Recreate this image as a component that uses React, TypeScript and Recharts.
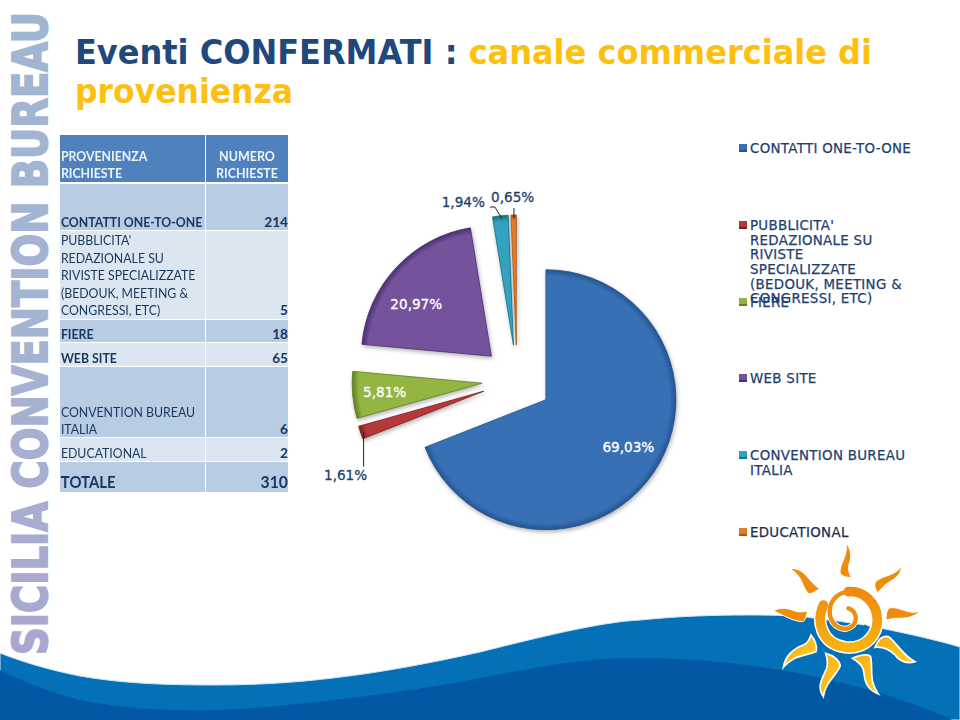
import React from 'react';
import { PieChart, Pie, Legend, Sector } from 'recharts';

const categories = [
  'CONTATTI ONE-TO-ONE',
  "PUBBLICITA' REDAZIONALE SU RIVISTE SPECIALIZZATE (BEDOUK, MEETING & CONGRESSI, ETC)",
  'FIERE',
  'WEB SITE',
  'CONVENTION BUREAU ITALIA',
  'EDUCATIONAL',
];
const requests = [214, 5, 18, 65, 6, 2];
const sliceColors = ['#3870b6', '#b5393a', '#93b643', '#74529c', '#31a3c0', '#e47d25'];
const sliceEdges = ['#24548f', '#7a1f20', '#5f7d22', '#4a2f70', '#1a6d85', '#a65412'];

const headerLeft = ['PROVENIENZA', 'RICHIESTE'];
const headerRight = ['NUMERO', 'RICHIESTE'];
const tableLabels = [
  ['CONTATTI ONE-TO-ONE'],
  ["PUBBLICITA'", 'REDAZIONALE SU', 'RIVISTE SPECIALIZZATE', '(BEDOUK, MEETING &', 'CONGRESSI, ETC)'],
  ['FIERE'],
  ['WEB SITE'],
  ['CONVENTION BUREAU', 'ITALIA'],
  ['EDUCATIONAL'],
];
const boldRows = [true, false, true, true, false, false];
const totalLabel = 'TOTALE';
const total = requests.reduce((a, b) => a + b, 0);

const chartData = categories.map((name, i) => ({ name, value: requests[i], fill: sliceColors[i] }));

// layout constants
const EXPLODE = 35;
const rowEdges = [[184, 230], [231, 319], [320, 342], [343, 366], [367, 437], [438, 461], [462, 492]];
const labelNudge = [[-25, -26], [-15, 42], [32, -3], [20, 36], [-37, -14], [-1, -18]];
const labelInside = [true, false, true, true, false, false];
const leaders = [null, [[3, -1], [3, 34]], null, null, [[1.6, 3], [-5.4, -8.8], [-10.4, -8.8]], [[0.3, 3], [0.3, -7]]];

const RAD = Math.PI / 180;
const dirOf = (mid: number) => [Math.cos(-mid * RAD), Math.sin(-mid * RAD)];

const renderSlice = (props: any) => {
  const { cx, cy, outerRadius, startAngle, endAngle, midAngle, index } = props;
  const i = index ?? categories.indexOf(props.name);
  const [dx, dy] = dirOf(midAngle);
  const sx = cx + dx * EXPLODE;
  const sy = cy + dy * EXPLODE;
  return (
    <g style={{ filter: 'drop-shadow(1px 2px 2px rgba(60,60,60,0.4))' }}>
      <defs>
        <radialGradient id={`slice-${i}`} gradientUnits="userSpaceOnUse" cx={sx} cy={sy} r={outerRadius}>
          <stop offset="0%" stopColor={sliceColors[i]} />
          <stop offset="95%" stopColor={sliceColors[i]} />
          <stop offset="100%" stopColor={sliceEdges[i]} />
        </radialGradient>
      </defs>
      <Sector
        cx={sx}
        cy={sy}
        innerRadius={0}
        outerRadius={outerRadius}
        startAngle={startAngle}
        endAngle={endAngle}
        fill={`url(#slice-${i})`}
        stroke={sliceEdges[i]}
        strokeWidth={0.8}
      />
    </g>
  );
};

const renderLabel = (props: any) => {
  const { cx, cy, outerRadius, midAngle, index } = props;
  const [dx, dy] = dirOf(midAngle);
  const ox = cx + dx * (EXPLODE + outerRadius);
  const oy = cy + dy * (EXPLODE + outerRadius);
  const text = ((requests[index] / total) * 100).toFixed(2).replace('.', ',') + '%';
  const color = labelInside[index] ? '#ffffff' : '#1f3f6e';
  const leader = leaders[index];
  return (
    <g>
      {leader && (
        <polyline
          points={leader.map(([x, y]) => `${ox + x},${oy + y}`).join(' ')}
          fill="none"
          stroke="#222"
          strokeWidth={1}
        />
      )}
      <text
        x={ox + labelNudge[index][0]}
        y={oy + labelNudge[index][1]}
        textAnchor="middle"
        dominantBaseline="central"
        fontFamily="DejaVu Sans"
        fontSize={13.6}
        fill={color}
        stroke={color}
        strokeWidth={0.3}
      >
        {text}
      </text>
    </g>
  );
};

const renderLegend = (props: any) => (
  <div style={{ position: 'relative', width: 221, height: 410 }}>
    {(props.payload || []).map((entry: any, i: number) => (
      <div key={entry.value} style={{ position: 'absolute', left: 0, top: i * 76.8, width: 221 }}>
        <div
          style={{
            position: 'absolute',
            left: 0,
            top: 2,
            width: 8,
            height: 8,
            background: sliceColors[i],
            boxShadow: `inset 0 -2px 1px ${sliceEdges[i]}`,
          }}
        />
        <div
          style={{
            position: 'absolute',
            left: 11,
            top: 0,
            width: 164,
            fontFamily: 'DejaVu Sans',
            fontSize: 13.4,
            letterSpacing: 0.3,
            lineHeight: '14.7px',
            color: i === 5 ? '#1b2f4f' : '#1f3f6e',
            WebkitTextStroke: '0.25px currentColor',
          }}
        >
          {entry.value}
        </div>
      </div>
    ))}
  </div>
);

const Cell = ({ top, bottom, left, width, bg, shift = 2, children }: any) => (
  <div
    style={{
      position: 'absolute',
      top,
      left,
      width,
      height: bottom - top,
      background: bg,
      display: 'flex',
      flexDirection: 'column',
      justifyContent: 'flex-end',
    }}
  >
    <div style={{ position: 'relative', top: shift }}>{children}</div>
  </div>
);

const DataTable = () => {
  const rows = tableLabels.map((lines, i) => ({ lines, val: requests[i], bold: boldRows[i] }));
  const text = {
    fontFamily: 'Lato',
    fontSize: 13.6,
    lineHeight: '17.6px',
    color: '#17375e',
    whiteSpace: 'nowrap',
  } as React.CSSProperties;
  const squeeze = (k: number, origin: string) =>
    ({ transform: `scaleX(${k})`, transformOrigin: origin } as React.CSSProperties);
  return (
    <div>
      <Cell top={135} bottom={182} left={60} width={145} bg="#4f81bd" shift={1}>
        {headerLeft.map((t) => (
          <div key={t} style={{ ...text, ...squeeze(0.905, 'left'), color: '#eef3f9', fontWeight: 700, paddingLeft: 1 }}>{t}</div>
        ))}
      </Cell>
      <Cell top={135} bottom={182} left={206} width={82} bg="#4f81bd" shift={1}>
        {headerRight.map((t) => (
          <div key={t} style={{ ...text, ...squeeze(0.92, 'center'), color: '#eef3f9', fontWeight: 700, textAlign: 'center' }}>{t}</div>
        ))}
      </Cell>
      {rows.map((r, i) => {
        const bg = i % 2 === 0 ? '#b8cce4' : '#dce6f1';
        return (
          <React.Fragment key={i}>
            <Cell top={rowEdges[i][0]} bottom={rowEdges[i][1]} left={60} width={145} bg={bg} shift={i === 1 ? 1 : 2}>
              {r.lines.map((t) => (
                <div key={t} style={{ ...text, ...squeeze(0.905, 'left'), fontWeight: r.bold ? 700 : 400, paddingLeft: 1 }}>{t}</div>
              ))}
            </Cell>
            <Cell top={rowEdges[i][0]} bottom={rowEdges[i][1]} left={206} width={82} bg={bg} shift={i === 1 ? 1 : 2}>
              <div style={{ ...text, fontWeight: 700, textAlign: 'right' }}>{r.val}</div>
            </Cell>
          </React.Fragment>
        );
      })}
      <Cell top={rowEdges[6][0]} bottom={rowEdges[6][1]} left={60} width={145} bg="#b8cce4" shift={3}>
        <div style={{ ...text, ...squeeze(0.85, 'left'), fontWeight: 700, fontSize: 17.5, lineHeight: '27px', paddingLeft: 1 }}>{totalLabel}</div>
      </Cell>
      <Cell top={rowEdges[6][0]} bottom={rowEdges[6][1]} left={206} width={82} bg="#b8cce4" shift={3}>
        <div style={{ ...text, ...squeeze(0.9, 'right'), fontWeight: 700, fontSize: 17.5, lineHeight: '27px', textAlign: 'right' }}>{total}</div>
      </Cell>
    </div>
  );
};

const SPIRAL_OUTER = 'M190,195 C170,240 180,310 255,322 C320,330 352,280 352,240 C352,190 310,150 265,155';
const SPIRAL_INNER = 'M265,155 C225,160 205,190 210,225 C215,260 255,280 280,255 C295,235 285,210 265,205';
const upperRays = [
  'M258,8 C275,30 275,50 268,70 C262,90 268,100 274,113 C258,112 240,108 240,95 C242,65 265,45 258,8 Z',
  'M424,78 C425,110 395,120 375,135 C365,145 360,150 352,158 C345,145 340,130 350,122 C375,105 410,105 424,78 Z',
  'M90,86 C115,82 135,100 148,118 C158,130 170,140 178,146 C165,155 150,165 145,160 C125,140 130,110 90,86 Z',
  'M480,214 C460,235 430,235 405,235 C395,237 385,238 378,240 C378,225 380,205 392,203 C420,200 445,225 480,214 Z',
  'M40,213 C60,200 85,205 105,213 C120,218 135,215 143,212 C140,225 135,245 128,245 C100,245 70,225 40,213 Z',
];
const lowerRays = [
  'M345,322 C355,300 365,285 385,290 C405,300 425,345 465,365 C440,372 420,365 405,345 C385,325 365,320 345,322 Z',
  'M70,382 C75,350 100,325 130,315 C145,310 150,295 153,285 C165,300 172,320 168,335 C130,350 100,345 70,382 Z',
  'M190,470 C170,440 185,420 200,385 C205,370 200,350 197,340 C220,345 243,365 240,380 C225,410 195,430 190,470 Z',
  'M355,462 C325,450 315,430 312,400 C312,380 295,365 277,355 C295,345 325,340 332,350 C340,390 325,420 355,462 Z',
];

const Backdrop = () => (
  <svg width={960} height={720} style={{ position: 'absolute', left: 0, top: 0 }}>
    <defs>
      <linearGradient id="logoFill" gradientUnits="userSpaceOnUse" x1={0} y1={0} x2={643} y2={0}>
        <stop offset="0%" stopColor="#a9a7cf" />
        <stop offset="45%" stopColor="#a5b3d2" />
        <stop offset="100%" stopColor="#9fb6d2" />
      </linearGradient>
      <linearGradient id="sunFill" x1="0" y1="0" x2="0" y2="1">
        <stop offset="0%" stopColor="#ee8a10" />
        <stop offset="100%" stopColor="#fab20f" />
      </linearGradient>
      <linearGradient id="rayLow" x1="0" y1="0" x2="1" y2="1">
        <stop offset="0%" stopColor="#f8a90f" />
        <stop offset="100%" stopColor="#fdd22b" />
      </linearGradient>
    </defs>
    <text
      transform="translate(47 655) rotate(-90)"
      fontFamily="DejaVu Sans"
      fontWeight={700}
      fontSize={48}
      textLength={643}
      lengthAdjust="spacingAndGlyphs"
      fill="url(#logoFill)"
      stroke="url(#logoFill)"
      strokeWidth={2}
    >
      SICILIA CONVENTION BUREAU
    </text>
    <text
      x={75}
      y={64}
      fontFamily="DejaVu Sans"
      fontWeight={700}
      fontSize={33}
      textLength={797}
      lengthAdjust="spacingAndGlyphs"
      fill="#1f497d"
    >
      Eventi CONFERMATI :<tspan fill="#fdc00f"> canale commerciale di</tspan>
    </text>
    <text
      x={75}
      y={103}
      fontFamily="DejaVu Sans"
      fontWeight={700}
      fontSize={33}
      textLength={218}
      lengthAdjust="spacingAndGlyphs"
      fill="#fdc00f"
    >
      provenienza
    </text>
    <path
      d="M0,653 C30,665 60,672 80,676 C125,684 170,685 217,685 C260,685 300,682 333,678 C385,672 435,662 480,652 C540,637 600,622 640,620 C680,616 715,615 747,615 C780,615 800,616 813,618 C840,621 860,624 880,628 C910,634 940,641 960,647 L960,720 L0,720 Z"
      fill="#0470b8"
      stroke="#cfe6f5"
      strokeWidth={1}
    />
    <path
      d="M0,670 C30,685 60,695 80,700 C115,707 150,710 183,710 C210,711 240,709 267,707 C340,700 420,690 480,678 C540,666 590,658 630,658 C655,658 680,659 697,660 C725,662 755,666 780,670 C815,676 850,684 880,693 C905,701 930,710 947,717 L952,720 L0,720 Z"
      fill="#0358a4"
    />
    <g transform="translate(760 540) scale(0.3333)">
      {upperRays.map((d) => (
        <path key={d} d={d} fill="#f08c0c" stroke="#ffffff" strokeWidth={3} />
      ))}
      {lowerRays.map((d) => (
        <path key={d} d={d} fill="url(#rayLow)" stroke="#ffffff" strokeWidth={5} />
      ))}
      <path d={SPIRAL_OUTER} fill="none" stroke="#ffffff" strokeWidth={38} strokeLinecap="round" />
      <path d="M203,245 C215,290 295,300 318,255" fill="none" stroke="#0470b8" strokeWidth={8} />
      <path d={SPIRAL_INNER} fill="none" stroke="#ffffff" strokeWidth={18} strokeLinecap="round" />
      <path d={SPIRAL_INNER} fill="none" stroke="#ee8f10" strokeWidth={13} strokeLinecap="round" />
      <path d={SPIRAL_OUTER} fill="none" stroke="url(#sunFill)" strokeWidth={29} strokeLinecap="round" />
    </g>
  </svg>
);

export default function App() {
  return (
    <div style={{ position: 'absolute', left: 0, top: 0, width: 960, height: 720, background: '#fff', overflow: 'hidden' }}>
      <Backdrop />
      <DataTable />
      <div style={{ position: 'absolute', left: 0, top: 0 }}>
        <PieChart width={960} height={720} margin={{ top: 0, right: 0, bottom: 0, left: 0 }}>
          <Pie
            data={chartData}
            dataKey="value"
            nameKey="name"
            cx={517}
            cy={380}
            innerRadius={0}
            outerRadius={130}
            startAngle={90}
            endAngle={-270}
            stroke="none"
            shape={renderSlice}
            label={renderLabel}
            labelLine={false}
            isAnimationActive={false}
          />
          <Legend
            layout="vertical"
            align="right"
            verticalAlign="top"
            itemSorter={null}
            content={renderLegend}
            wrapperStyle={{ left: 739, right: 'auto', top: 142, width: 221, height: 410 }}
          />
        </PieChart>
      </div>
    </div>
  );
}
